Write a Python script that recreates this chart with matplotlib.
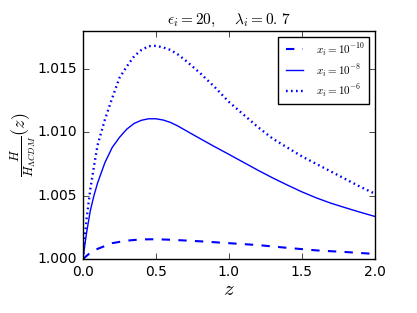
import matplotlib
matplotlib.use("Agg")
import matplotlib.pyplot as plt

plt.style.use('classic')
plt.rcParams['mathtext.fontset'] = 'cm'
plt.rcParams['figure.facecolor'] = 'white'
plt.rcParams['savefig.facecolor'] = 'white'

z_a = [0.0, 0.0125, 0.025, 0.05, 0.075, 0.1, 0.15, 0.2, 0.25, 0.3, 0.35, 0.4, 0.45, 0.5,
       0.55, 0.6, 0.65, 0.7, 0.8, 0.9, 1.0, 1.1, 1.2, 1.3, 1.4, 1.5, 1.6, 1.7, 1.8, 1.9, 2.0]
h_m6 = [1.0000, 1.0017, 1.0032, 1.0055, 1.0073, 1.0090, 1.0110, 1.0127, 1.0143, 1.0152,
        1.0160, 1.0165, 1.01680, 1.01683, 1.0167, 1.0165, 1.01615, 1.0157, 1.0147, 1.0136,
        1.0124, 1.0114, 1.0104, 1.0095, 1.0088, 1.0081, 1.0075, 1.0069, 1.0063, 1.0057,
        1.00516]
h_m8 = [1.0000, 1.0011, 1.0021, 1.0038, 1.0050, 1.0060, 1.0076, 1.0088, 1.0096, 1.01025,
        1.0107, 1.01095, 1.01107, 1.01107, 1.01097, 1.01078, 1.01050, 1.01017, 1.00952,
        1.00888, 1.00826, 1.00763, 1.00700, 1.00640, 1.00584, 1.00530, 1.00482, 1.00440,
        1.00404, 1.00369, 1.00336]
z_b = [0.0, 0.05, 0.1, 0.2, 0.3, 0.4, 0.5, 0.6, 0.8, 1.0, 1.2, 1.4, 1.6, 1.8, 2.0]
h_m10 = [1.0000, 1.0005, 1.0008, 1.00125, 1.00145, 1.00155, 1.00156, 1.00152, 1.0014,
         1.00125, 1.0011, 1.00088, 1.00068, 1.00055, 1.0004]

labels = [r'$x_i=10^{-10}$', r'$x_i=10^{-8}$', r'$x_i=10^{-6}$']
xticks = [0.0, 0.5, 1.0, 1.5, 2.0]
yticks = [1.000, 1.005, 1.010, 1.015]

fig = plt.figure(figsize=(4.17, 3.13), dpi=100)
ax = fig.add_axes([0.199, 0.1725, 0.70, 0.7285])
ax.plot(z_b, h_m10, 'b--', lw=1.5, label=labels[0])
ax.plot(z_a, h_m8, 'b-', lw=1.0, label=labels[1])
ax.plot(z_a, h_m6, color='b', linestyle=(0, (1.2, 2.4)), lw=1.7, label=labels[2])
ax.set_xlim(0, 2)
ax.set_ylim(1.0, 1.018)
ax.set_xticks(xticks)
ax.set_yticks(yticks)
ax.set_xticklabels(['%.1f' % t for t in xticks], fontsize=10)
ax.set_yticklabels(['%.3f' % t for t in yticks], fontsize=10)
ax.set_xlabel(r'$z$', fontsize=15, labelpad=0)
ax.set_ylabel(r'$\frac{H}{H_{\Lambda CDM}}(z)$', fontsize=13, labelpad=0)
ax.set_title(r'$\epsilon_i=20,\quad\;\lambda_i=0.\,7$', fontsize=11)
ax.legend(loc='upper right', fontsize=8, handlelength=2.2, labelspacing=0.4)
fig.savefig('out.png', dpi=100)
